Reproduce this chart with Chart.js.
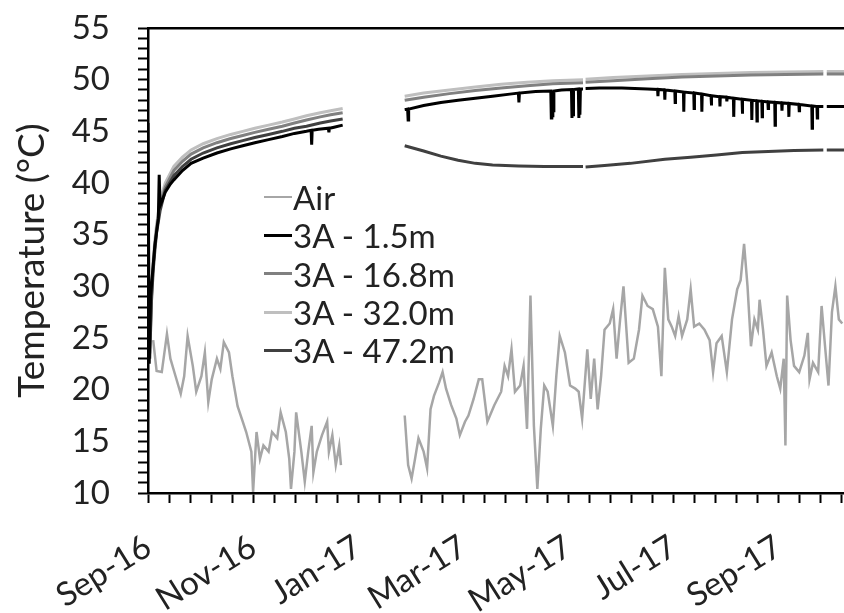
<!DOCTYPE html>
<html>
<head>
<meta charset="utf-8">
<script src="https://cdn.jsdelivr.net/npm/chart.js@4.4.1/dist/chart.umd.min.js"></script>
<style>
  html, body { margin: 0; padding: 0; background: #fff; overflow: hidden; }
  #wrap { position: relative; width: 844px; height: 613px; }
  #legend { position: absolute; left: 264px; top: 178px; font-family: Lato, sans-serif; font-size: 33px; color: #222; }
  #legend .row { display: flex; align-items: center; height: 38.3px; white-space: nowrap; }
  #legend .swatch { width: 28px; margin-right: 1px; }
</style>
</head>
<body>
<div id="wrap">
  <canvas id="c" width="844" height="613"></canvas>
  <div id="legend"></div>
</div>
<script>
// Days are counted from 1 Sep 2016; null marks a break in the record.
const tickLabels = ['Sep-16', 'Nov-16', 'Jan-17', 'Mar-17', 'May-17', 'Jul-17', 'Sep-17'];
const seriesNames = ['Air', '3A - 1.5m', '3A - 16.8m', '3A - 32.0m', '3A - 47.2m'];

const airReadings = [
  [3,24.8],[5,21.8],[8,21.7],[11,25.4],[13,23.0],[16,21.3],[19,19.6],[21,21.3],[23,25.2],[26,22.3],
  [28,19.8],[31,21.3],[33,23.6],[35,18.8],[37,21.0],[40,23.0],[42,22.0],[44,24.6],[47,23.6],[49,21.3],
  [52,18.4],[55,16.9],[57,15.9],[60,14.0],[61,10.1],[63,15.9],[65,13.3],[67,14.6],[70,14.0],[72,15.9],
  [75,15.3],[77,17.8],[80,15.9],[82,13.3],[83,10.4],[85,14.0],[86,17.8],[89,14.0],[91,11.1],[93,14.0],
  [95,16.5],[96,12.0],[98,14.0],[101,15.6],[104,16.9],[105,14.0],[107,15.6],[109,12.7],[111,14.6],[112,12.7],
  [130,null],
  [149,17.5],[151,12.7],[153,11.4],[155,13.3],[157,15.3],[160,14.0],[162,12.4],[164,18.1],[166,19.4],[169,20.7],
  [171,21.7],[173,20.1],[176,18.5],[179,17.2],[181,15.6],[184,16.9],[186,17.5],[189,19.1],[192,21.0],[194,21.0],
  [197,16.9],[201,18.5],[205,19.8],[207,22.3],[209,21.3],[211,23.9],[213,19.8],[216,20.4],[218,22.3],[220,16.2],
  [222,29.1],[224,16.5],[226,10.4],[228,16.2],[230,20.4],[232,19.8],[235,16.5],[237,21.3],[239,25.2],[242,23.6],
  [245,20.4],[248,20.1],[250,19.8],[252,17.2],[255,23.9],[257,19.1],[259,23.0],[261,18.1],[263,21.3],[265,25.8],
  [268,26.4],[270,27.8],[272,23.0],[274,26.7],[276,30.0],[279,22.6],[282,23.0],[285,25.8],[287,29.1],[290,28.1],
  [293,27.8],[296,26.1],[298,21.3],[300,31.8],[302,26.8],[304,26.1],[306,25.2],[308,27.1],[310,25.2],[313,26.8],
  [315,29.7],[317,26.1],[320,26.4],[323,25.8],[326,24.8],[328,21.7],[330,24.5],[333,25.2],[336,21.7],[339,26.8],
  [342,29.7],[344,30.6],[346,34.1],[348,30.0],[350,24.2],[352,26.8],[354,25.8],[355,28.7],[357,25.8],[359,22.3],
  [362,23.6],[365,21.3],[367,20.1],[369,23.0],[370,14.6],[371,29.1],[373,24.8],[375,22.3],[378,21.7],[381,23.3],
  [383,25.5],[384,21.0],[386,22.6],[389,21.7],[391,28.1],[393,24.2],[395,20.4],[397,27.5],[399,30.0],[401,26.8],
  [403,26.4]
];

const shallowReadings = [
  [0,45.8],[0.7,22.5],[1.5,29],[3,32],[4,34],[5,35.3],[6,36.6],[6.5,40.8],[7,37.8],[8,38.2],
  [10,39.1],[13,39.9],[15,40.3],[20,41.2],[25,41.9],[32,42.4],[40,42.9],[48,43.3],[55,43.6],[62,43.9],
  [70,44.2],[78,44.5],[85,44.8],[92,45.0],[94.7,45.1],[95,43.7],[95.3,45.1],[99,45.2],[104.7,45.3],[105,44.9],
  [105.3,45.3],[108,45.4],[113,45.6],
  [130,null],
  [149,47.1],[150.7,47.15],[151,46.1],[151.3,47.15],[160,47.5],[170,47.8],[180,48.0],[190,48.2],[200,48.4],[210,48.6],
  [215,48.7],[215.3,47.8],[215.6,48.7],[225,48.85],[233.8,48.9],[234.1,46.3],[234.4,48.9],[234.7,46.5],[235,48.9],[235.3,47.0],
  [235.6,48.9],[240,49.0],[245.8,49.05],[246.1,46.3],[246.4,49.05],[246.7,46.6],[247,49.05],[249.8,49.1],[250.1,46.3],[250.4,49.1],
  [250.7,46.6],[251,49.1],[252.5,49.1],
  [253,null],
  [254,49.15],[262,49.2],[275,49.2],[290,49.1],[295.8,49.05],[296,48.4],[296.2,49.05],[299.8,49.0],[300,48.05],[300.2,49.0],
  [305.8,48.9],[306,47.8],[306.2,48.9],[310.8,48.8],[311,46.9],[311.2,48.8],[316.8,48.7],[317,47.2],[317.2,48.7],[321.3,48.6],
  [321.5,46.9],[321.7,48.6],[326.8,48.45],[327,47.5],[327.2,48.45],[331.8,48.35],[332,47.4],[332.2,48.35],[335.8,48.3],[336,47.9],
  [336.2,48.3],[339.8,48.2],[340,46.4],[340.2,48.2],[344.8,48.1],[345,46.7],[345.2,48.1],[350.3,48.0],[350.5,46.1],[350.7,48.0],
  [353.3,47.95],[353.5,46.0],[353.7,47.95],[356.3,47.9],[356.5,46.4],[356.7,47.9],[359.8,47.85],[360,47.2],[360.2,47.85],[363.8,47.8],
  [364,45.6],[364.2,47.8],[367.8,47.75],[368,47.0],[368.2,47.75],[371.8,47.7],[372,46.4],[372.2,47.7],[377.8,47.6],[378,47.0],
  [378.2,47.6],[385.3,47.45],[385.5,45.3],[385.7,47.45],[388.3,47.4],[388.5,46.3],[388.7,47.4],[392,47.4],
  [393,null],
  [394,47.4],[404,47.4]
];

const midReadings = [
  [1,23.5],[2,29],[3,32],[4,34],[5,35.6],[7,37.8],[10,39.6],[15,41.2],[20,42.1],[25,42.8],
  [32,43.4],[40,43.9],[48,44.3],[55,44.6],[62,44.9],[70,45.2],[78,45.5],[85,45.8],[92,46.1],[100,46.4],
  [106,46.6],[113,46.8],
  [130,null],
  [149,48.0],[160,48.3],[175,48.65],[190,48.95],[205,49.2],[220,49.4],[235,49.6],[252.5,49.7],
  [253,null],
  [254,49.75],[270,49.9],[290,50.1],[310,50.25],[330,50.35],[350,50.45],[370,50.5],[392,50.55],
  [393,null],
  [394,50.55],[404,50.55]
];

const deepReadings = [
  [1,24],[2,29.5],[3,32.5],[4,34.5],[5,36],[7,38.3],[10,40.0],[15,41.6],[20,42.5],[25,43.2],
  [32,43.8],[40,44.3],[48,44.7],[55,45.0],[62,45.3],[70,45.6],[78,45.9],[85,46.2],[92,46.5],[100,46.8],
  [106,47.0],[113,47.2],
  [130,null],
  [149,48.4],[160,48.7],[175,49.0],[190,49.3],[205,49.55],[220,49.75],[235,49.9],[252.5,50.0],
  [253,null],
  [254,50.05],[270,50.2],[290,50.35],[310,50.5],[330,50.6],[350,50.7],[370,50.75],[392,50.8],
  [393,null],
  [394,50.8],[404,50.8]
];

const bottomReadings = [
  [1,23],[2,28.5],[3,31.5],[4,33.5],[5,35.2],[7,37.3],[10,39.3],[15,40.7],[20,41.6],[25,42.3],
  [32,42.9],[40,43.4],[48,43.8],[55,44.1],[62,44.4],[70,44.7],[78,45.0],[85,45.3],[92,45.5],[100,45.8],
  [106,46.0],[113,46.2],
  [130,null],
  [149,43.6],[160,43.1],[170,42.6],[180,42.2],[190,41.9],[200,41.75],[215,41.65],[230,41.6],[252.5,41.6],
  [253,null],
  [254,41.55],[265,41.7],[280,41.9],[300,42.3],[315,42.5],[330,42.7],[345,42.95],[360,43.05],[375,43.15],[392,43.2],
  [393,null],
  [394,43.2],[404,43.2]
];

const lineColors = ['#a6a6a6', '#000000', '#808080', '#bfbfbf', '#404040'];
const lineWidths = [2.5, 3, 3, 3, 3];
const seriesReadings = [airReadings, shallowReadings, midReadings, deepReadings, bottomReadings];

const xMax = 404;          // last day shown
const majorStep = 61;      // days between labelled ticks
const minorPerMajor = 5;
const fontFamily = 'Lato, sans-serif';
const inkColor = '#222';

const datasets = seriesNames.map((name, i) => ({
  label: name,
  data: seriesReadings[i].map(([d, t]) => ({ x: d, y: t })),
  borderColor: lineColors[i],
  backgroundColor: lineColors[i],
  borderWidth: lineWidths[i],
  pointRadius: 0,
  tension: 0,
  spanGaps: false,
  order: [4, 0, 2, 3, 1][i]
}));

const chart = new Chart(document.getElementById('c'), {
  type: 'line',
  data: { datasets },
  options: {
    responsive: false,
    animation: false,
    devicePixelRatio: 1,
    layout: { padding: { top: 28, right: 0, bottom: 0, left: 0 } },
    plugins: { legend: { display: false }, tooltip: { enabled: false } },
    scales: {
      x: {
        type: 'linear', position: 'bottom', min: 0, max: xMax,
        afterBuildTicks: (s) => {
          const ticks = [];
          for (let i = 0; i * majorStep / minorPerMajor <= xMax + 1e-6; i++) {
            ticks.push({ value: i * majorStep / minorPerMajor });
          }
          s.ticks = ticks;
        },
        afterFit: (s) => { s.height = 120; s.paddingLeft = 0; s.paddingRight = 0; },
        ticks: {
          autoSkip: false, minRotation: 32, maxRotation: 32, padding: 24,
          color: inkColor, font: { family: fontFamily, size: 33 },
          callback: (v, i) => (i % minorPerMajor === 0 ? (tickLabels[i / minorPerMajor] || '') : '')
        },
        grid: { drawOnChartArea: false, tickLength: 10, tickColor: '#000', tickWidth: 2 },
        border: { color: '#000', width: 2.5 }
      },
      xTop: {
        type: 'linear', position: 'top', min: 0, max: xMax,
        ticks: { display: false }, grid: { display: false },
        border: { color: '#000', width: 2.5 },
        afterFit: (s) => { s.height = 0; }
      },
      y: {
        min: 10, max: 55,
        afterBuildTicks: (s) => {
          const ticks = [];
          for (let v = 10; v <= 55; v++) ticks.push({ value: v });
          s.ticks = ticks;
        },
        afterFit: (s) => { s.width = 148; s.paddingTop = 0; s.paddingBottom = 0; },
        ticks: {
          autoSkip: false, padding: 28, color: inkColor,
          font: { family: fontFamily, size: 33 },
          callback: (v) => (v % 5 === 0 ? String(v) : '')
        },
        grid: { drawOnChartArea: false, tickLength: 10, tickColor: '#000', tickWidth: 2 },
        border: { color: '#000', width: 2.5 },
        title: {
          display: true, text: 'Temperature (°C)', color: inkColor,
          font: { family: fontFamily, size: 37 }, padding: { top: 10, bottom: 0 }
        }
      }
    }
  }
});

// Legend entries taken from the chart's own datasets
const legendBox = document.getElementById('legend');
chart.data.datasets.forEach((ds) => {
  const row = document.createElement('div');
  row.className = 'row';
  const sw = document.createElement('div');
  sw.className = 'swatch';
  sw.style.height = ds.borderWidth + 'px';
  sw.style.background = ds.borderColor;
  const txt = document.createElement('span');
  txt.textContent = ds.label;
  row.appendChild(sw);
  row.appendChild(txt);
  legendBox.appendChild(row);
});
</script>
</body>
</html>
